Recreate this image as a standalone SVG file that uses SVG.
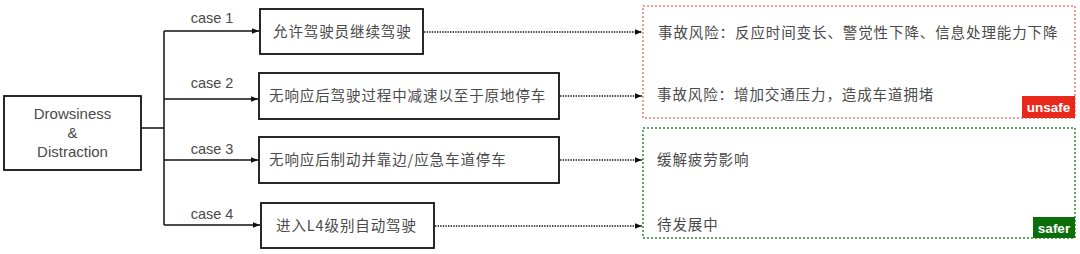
<svg xmlns="http://www.w3.org/2000/svg" width="1080" height="254" viewBox="0 0 1080 254">
<style>
.box{fill:#fff;stroke:#111;stroke-width:1.8}
.t{font-family:"Liberation Sans","Noto Sans CJK SC",sans-serif;fill:#4a4a4a}
.cn{font-family:"Noto Sans CJK SC","Liberation Sans",sans-serif;font-size:14.5px;fill:#4a4a4a;letter-spacing:0.9px}
.solid{fill:none;stroke:#111;stroke-width:1.5}
.dot{fill:none;stroke:#111;stroke-width:1.4;stroke-dasharray:1.4 1.2}
.tag{font-family:"Liberation Sans",sans-serif;font-weight:bold;font-size:13.5px;fill:#fff}
</style>
<defs>
<marker id="ah" viewBox="0 0 10 10" refX="10" refY="5" markerWidth="7" markerHeight="7" markerUnits="userSpaceOnUse" orient="auto">
<path d="M0,1 L10,5 L0,9 z" fill="#111"/>
</marker>
</defs>
<g id="connectors">
<path class="solid" d="M141,128 H164 M164,31 V225"/>
<path class="solid" d="M164,31 H259" marker-end="url(#ah)"/>
<path class="solid" d="M164,99 H258" marker-end="url(#ah)"/>
<path class="solid" d="M164,160 H258" marker-end="url(#ah)"/>
<path class="solid" d="M164,225 H260" marker-end="url(#ah)"/>
<path class="dot" d="M424,32 H642" marker-end="url(#ah)"/>
<path class="dot" d="M560,96 H642" marker-end="url(#ah)"/>
<path class="dot" d="M560,160 H642" marker-end="url(#ah)"/>
<path class="dot" d="M435,226 H642" marker-end="url(#ah)"/>
<text class="t" x="212" y="23" font-size="14.5" text-anchor="middle">case 1</text>
<text class="t" x="212" y="88" font-size="14.5" text-anchor="middle">case 2</text>
<text class="t" x="212" y="154" font-size="14.5" text-anchor="middle">case 3</text>
<text class="t" x="212" y="219" font-size="14.5" text-anchor="middle">case 4</text>
</g>
<g id="source">
<rect class="box" x="4" y="96" width="137" height="74"/>
<text class="t" font-size="15" text-anchor="middle"><tspan x="72.5" y="119">Drowsiness</tspan><tspan x="72.5" y="138">&amp;</tspan><tspan x="72.5" y="157">Distraction</tspan></text>
</g>
<g id="case1">
<rect class="box" x="260" y="9" width="163" height="45"/>
<text class="cn" x="273" y="37">允许驾驶员继续驾驶</text>
</g>
<g id="case2">
<rect class="box" x="259" y="73" width="300" height="46"/>
<text class="cn" x="269" y="101">无响应后驾驶过程中减速以至于原地停车</text>
</g>
<g id="case3">
<rect class="box" x="259" y="137" width="300" height="46"/>
<text class="cn" x="269" y="165">无响应后制动并靠边/应急车道停车</text>
</g>
<g id="case4">
<rect class="box" x="261" y="203" width="173" height="45"/>
<text class="cn" x="276" y="231">进入L4级别自动驾驶</text>
</g>
<g id="unsafe">
<rect x="643" y="6" width="432" height="112" fill="none" stroke="#f77a6a" stroke-width="1.5" stroke-dasharray="2 2"/>
<text class="cn" x="658" y="38">事故风险：反应时间变长、警觉性下降、信息处理能力下降</text>
<text class="cn" x="657" y="100">事故风险：增加交通压力，造成车道拥堵</text>
<rect x="1022" y="96" width="53" height="22" fill="#e8281a"/>
<text class="tag" x="1048.5" y="112" text-anchor="middle">unsafe</text>
</g>
<g id="safer">
<rect x="643" y="128" width="432" height="110" fill="none" stroke="#2a8a2a" stroke-width="1.5" stroke-dasharray="2 2"/>
<text class="cn" x="657" y="165">缓解疲劳影响</text>
<text class="cn" x="657" y="230">待发展中</text>
<rect x="1033" y="217" width="42" height="21" fill="#0b6e0b"/>
<text class="tag" x="1054" y="232.5" text-anchor="middle">safer</text>
</g>
</svg>
